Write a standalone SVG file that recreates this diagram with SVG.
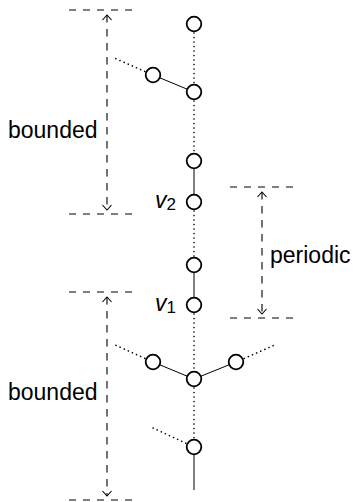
<svg xmlns="http://www.w3.org/2000/svg" width="358" height="502" viewBox="0 0 358 502">
<style>
.node{fill:#fff;stroke:#000;stroke-width:1.8}
.solid{stroke:#000;stroke-width:1;fill:none}
.dot{stroke:#000;stroke-width:1.6;fill:none;stroke-dasharray:0.1 4.4;stroke-linecap:round}
.dash{stroke:#000;stroke-width:1.1;fill:none;stroke-dasharray:7 7}
.dim{stroke:#000;stroke-width:1.1;fill:none;stroke-dasharray:7.5 6.5;marker-start:url(#ah);marker-end:url(#ah)}
.lbl{font-family:"Liberation Sans",Arial,sans-serif;font-size:23px;fill:#000}
.var{font-family:"Liberation Sans",Arial,sans-serif;font-size:23px;font-style:italic;fill:#000}
.sub{font-family:"Liberation Sans",Arial,sans-serif;font-size:17px;fill:#000}
</style>
<defs>
<marker id="ah" viewBox="-6 -5 8 10" markerWidth="8" markerHeight="10" refX="0" refY="0" orient="auto-start-reverse" markerUnits="userSpaceOnUse">
<path d="M-5,-4.5 L0,0 L-5,4.5" fill="none" stroke="#000" stroke-width="1.1"/>
</marker>
</defs>
<g id="connectors">
<line class="dot" x1="194" y1="24" x2="194" y2="92"/>
<line class="solid" x1="153" y1="75" x2="194" y2="92"/>
<line class="dot" x1="153" y1="75" x2="112" y2="57"/>
<line class="dot" x1="194" y1="92" x2="194" y2="161"/>
<line class="solid" x1="194" y1="161" x2="194" y2="202"/>
<line class="dot" x1="194" y1="202" x2="194" y2="265"/>
<line class="solid" x1="194" y1="265" x2="194" y2="305"/>
<line class="dot" x1="194" y1="305" x2="194" y2="379"/>
<line class="solid" x1="153" y1="362" x2="194" y2="379"/>
<line class="solid" x1="236" y1="362" x2="194" y2="379"/>
<line class="dot" x1="153" y1="362" x2="113" y2="344"/>
<line class="dot" x1="236" y1="362" x2="277" y2="344"/>
<line class="dot" x1="194" y1="379" x2="194" y2="447"/>
<line class="dot" x1="194" y1="447" x2="153" y2="428"/>
<line class="solid" x1="194" y1="447" x2="194" y2="490"/>
</g>
<g id="n1"><circle class="node" cx="194" cy="24" r="7.3"/></g>
<g id="n2"><circle class="node" cx="194" cy="92" r="7.3"/></g>
<g id="s1"><circle class="node" cx="153" cy="75" r="7.3"/></g>
<g id="n3"><circle class="node" cx="194" cy="161" r="7.3"/></g>
<g id="v2"><circle class="node" cx="194" cy="202" r="7.3"/><text class="var" x="155" y="208">v</text><text class="sub" x="166.5" y="210">2</text></g>
<g id="n5"><circle class="node" cx="194" cy="265" r="7.3"/></g>
<g id="v1"><circle class="node" cx="194" cy="305" r="7.3"/><text class="var" x="155" y="311">v</text><text class="sub" x="166.5" y="313">1</text></g>
<g id="b"><circle class="node" cx="194" cy="379" r="7.3"/></g>
<g id="sL"><circle class="node" cx="153" cy="362" r="7.3"/></g>
<g id="sR"><circle class="node" cx="236" cy="362" r="7.3"/></g>
<g id="n9"><circle class="node" cx="194" cy="447" r="7.3"/></g>
<g id="dim-top">
<line class="dash" x1="69" y1="10" x2="138" y2="10"/>
<line class="dash" x1="69" y1="214" x2="138" y2="214"/>
<line class="dim" x1="107" y1="15" x2="107" y2="210"/>
<text class="lbl" x="8" y="138">bounded</text>
</g>
<g id="dim-periodic">
<line class="dash" x1="230" y1="187" x2="298" y2="187"/>
<line class="dash" x1="230" y1="318" x2="298" y2="318"/>
<line class="dim" x1="262" y1="192" x2="262" y2="314"/>
<text class="lbl" x="270" y="263">periodic</text>
</g>
<g id="dim-bottom">
<line class="dash" x1="69" y1="292" x2="138" y2="292"/>
<line class="dash" x1="69" y1="500" x2="138" y2="500"/>
<line class="dim" x1="107" y1="297" x2="107" y2="496"/>
<text class="lbl" x="8" y="400">bounded</text>
</g>
</svg>
